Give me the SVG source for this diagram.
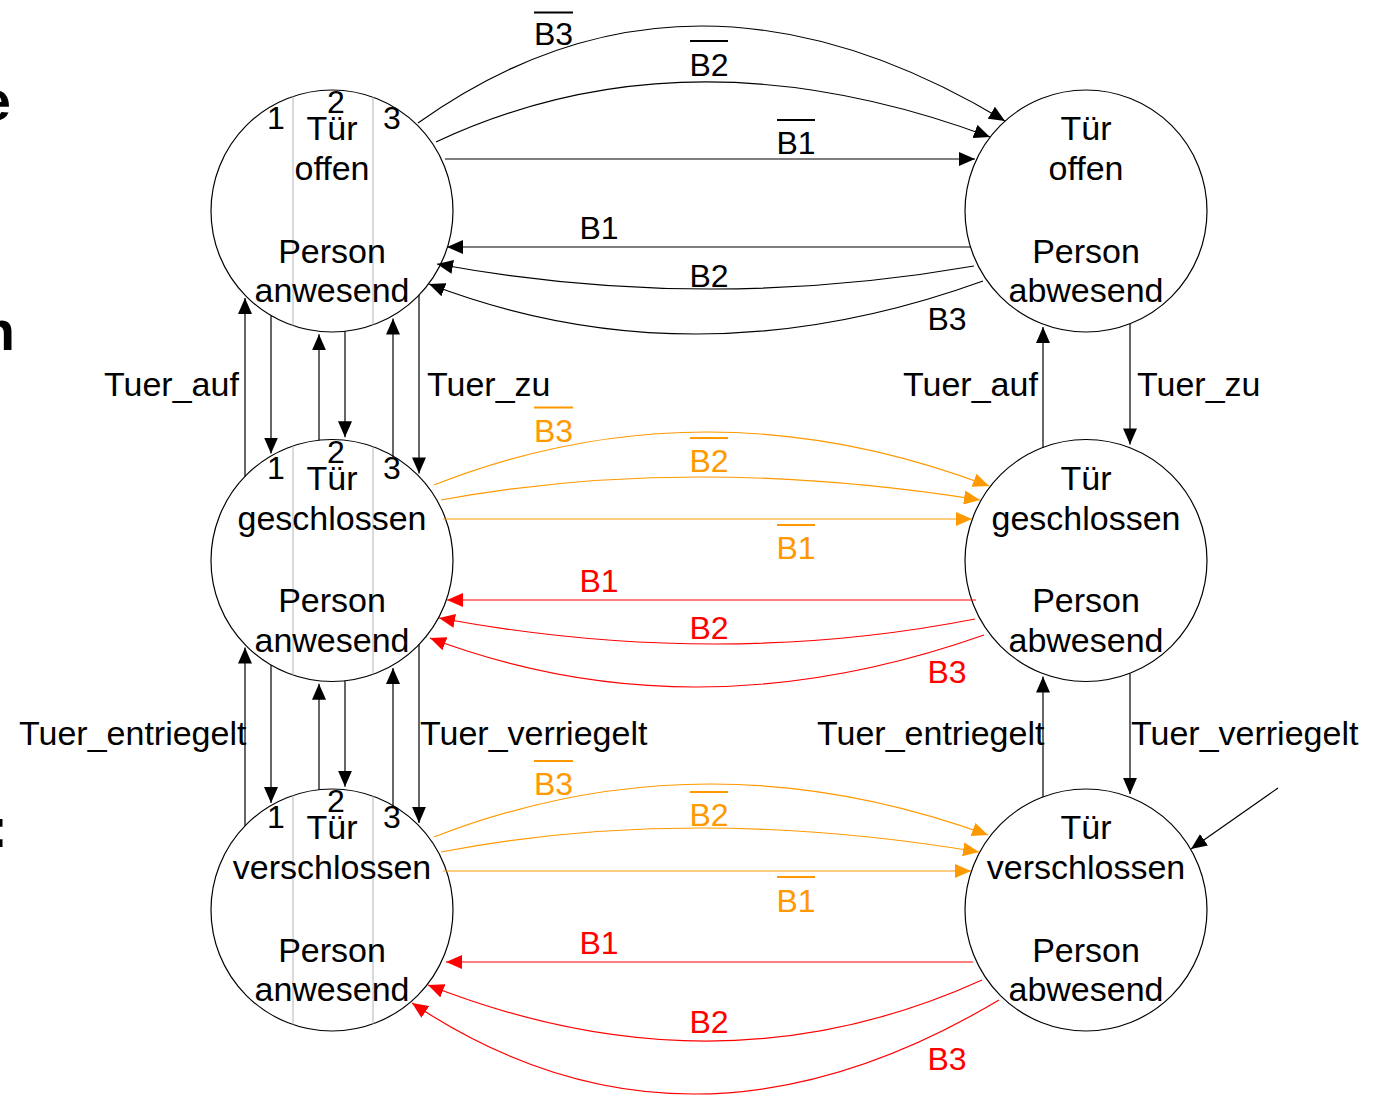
<svg xmlns="http://www.w3.org/2000/svg" width="1376" height="1095" viewBox="0 0 1376 1095">
  <style>
    text { font-family: "Liberation Sans", Arial, sans-serif; fill: #000; }
    .st { font-size: 34px; text-anchor: middle; }
    .num { font-size: 32px; text-anchor: middle; }
    .ev { font-size: 34px; }
    .lb { font-size: 32px; text-anchor: middle; }
    .lb.o { fill: #ff9900; }
    .lb.r { fill: #ff0000; }
    .cut { font-size: 56px; font-weight: bold; text-anchor: end; }
    .ring { fill: #fff; stroke: #000; stroke-width: 1.2; }
    .div { stroke: #b4b4b4; stroke-width: 1; }
    .ck { fill: none; stroke: #000; stroke-width: 1.2; marker-end: url(#ak); }
    .co { fill: none; stroke: #ff9900; stroke-width: 1.2; marker-end: url(#ao); }
    .cr { fill: none; stroke: #ff0000; stroke-width: 1.2; marker-end: url(#ar); }
    .bar { stroke-width: 2; }
    .bar.k { stroke: #000; }
    .bar.o { stroke: #ff9900; }
  </style>
  <defs>
    <marker id="ak" markerUnits="userSpaceOnUse" markerWidth="16" markerHeight="14" viewBox="0 0 16 14" refX="16" refY="7" orient="auto">
      <path d="M0,0 L16,7 L0,14 z" fill="#000"/>
    </marker>
    <marker id="ao" markerUnits="userSpaceOnUse" markerWidth="16" markerHeight="14" viewBox="0 0 16 14" refX="16" refY="7" orient="auto">
      <path d="M0,0 L16,7 L0,14 z" fill="#ff9900"/>
    </marker>
    <marker id="ar" markerUnits="userSpaceOnUse" markerWidth="16" markerHeight="14" viewBox="0 0 16 14" refX="16" refY="7" orient="auto">
      <path d="M0,0 L16,7 L0,14 z" fill="#ff0000"/>
    </marker>
  </defs>

  <rect width="1376" height="1095" fill="#fff"/>

  <!-- text running in from the left margin -->
  <g id="margin-text">
    <text class="cut" x="11" y="120">e</text>
    <text class="cut" x="15" y="350">n</text>
    <text class="cut" x="8" y="847">:</text>
  </g>

  <!-- left column: person present -->
  <g id="s-offen-anwesend">
    <circle class="ring" cx="332" cy="211" r="121"/>
    <line class="div" x1="293" y1="96.5" x2="293" y2="325.5"/>
    <line class="div" x1="373" y1="97.2" x2="373" y2="324.8"/>
    <text class="num" x="276" y="129">1</text>
    <text class="num" x="336" y="113">2</text>
    <text class="num" x="392" y="129">3</text>
    <text class="st" x="332" y="140">Tür</text>
    <text class="st" x="332" y="180">offen</text>
    <text class="st" x="332" y="263">Person</text>
    <text class="st" x="332" y="302">anwesend</text>
  </g>
  <g id="s-geschlossen-anwesend">
    <circle class="ring" cx="332" cy="560.5" r="121"/>
    <line class="div" x1="293" y1="446" x2="293" y2="675"/>
    <line class="div" x1="373" y1="446.7" x2="373" y2="674.3"/>
    <text class="num" x="276" y="478.5">1</text>
    <text class="num" x="336" y="462.5">2</text>
    <text class="num" x="392" y="478.5">3</text>
    <text class="st" x="332" y="489.5">Tür</text>
    <text class="st" x="332" y="529.5">geschlossen</text>
    <text class="st" x="332" y="612">Person</text>
    <text class="st" x="332" y="651.5">anwesend</text>
  </g>
  <g id="s-verschlossen-anwesend">
    <circle class="ring" cx="332" cy="910" r="121"/>
    <line class="div" x1="293" y1="795.5" x2="293" y2="1024.5"/>
    <line class="div" x1="373" y1="796.2" x2="373" y2="1023.8"/>
    <text class="num" x="276" y="828">1</text>
    <text class="num" x="336" y="812">2</text>
    <text class="num" x="392" y="828">3</text>
    <text class="st" x="332" y="839">Tür</text>
    <text class="st" x="332" y="879">verschlossen</text>
    <text class="st" x="332" y="961.5">Person</text>
    <text class="st" x="332" y="1001">anwesend</text>
  </g>

  <!-- right column: person absent -->
  <g id="s-offen-abwesend">
    <circle class="ring" cx="1086" cy="211" r="121"/>
    <text class="st" x="1086" y="140">Tür</text>
    <text class="st" x="1086" y="180">offen</text>
    <text class="st" x="1086" y="263">Person</text>
    <text class="st" x="1086" y="302">abwesend</text>
  </g>
  <g id="s-geschlossen-abwesend">
    <circle class="ring" cx="1086" cy="560.5" r="121"/>
    <text class="st" x="1086" y="489.5">Tür</text>
    <text class="st" x="1086" y="529.5">geschlossen</text>
    <text class="st" x="1086" y="612">Person</text>
    <text class="st" x="1086" y="651.5">abwesend</text>
  </g>
  <g id="s-verschlossen-abwesend">
    <circle class="ring" cx="1086" cy="910" r="121"/>
    <text class="st" x="1086" y="839">Tür</text>
    <text class="st" x="1086" y="879">verschlossen</text>
    <text class="st" x="1086" y="961.5">Person</text>
    <text class="st" x="1086" y="1001">abwesend</text>
  </g>

  <!-- transitions -->
  <g id="connectors">
    <!-- door events, left column -->
    <path class="ck" d="M245,476.4 L245,298"/>
    <path class="ck" d="M271,315.5 L271,453.5"/>
    <path class="ck" d="M319,440.2 L319,334.3"/>
    <path class="ck" d="M345,331.3 L345,437.2"/>
    <path class="ck" d="M393,457 L393,318.5"/>
    <path class="ck" d="M419,295.1 L419,473.4"/>
    <path class="ck" d="M245,825.9 L245,647.6"/>
    <path class="ck" d="M271,665 L271,803"/>
    <path class="ck" d="M319,789.7 L319,683.8"/>
    <path class="ck" d="M345,680.8 L345,786.7"/>
    <path class="ck" d="M393,806.5 L393,668"/>
    <path class="ck" d="M419,644.6 L419,822.9"/>
    <!-- door events, right column -->
    <path class="ck" d="M1043,447.4 L1043,327"/>
    <path class="ck" d="M1130,324 L1130,444.4"/>
    <path class="ck" d="M1043,796.9 L1043,676.5"/>
    <path class="ck" d="M1130,673.5 L1130,793.9"/>
    <!-- initial state -->
    <path class="ck" d="M1278,788 L1191,849"/>

    <!-- row 1: door open -->
    <path class="ck" d="M418,123 Q688.5,-70 1005,121"/>
    <path class="ck" d="M436,142 Q687,24.5 990,137"/>
    <path class="ck" d="M445,159 L975,159"/>
    <path class="ck" d="M971,247 L447,247"/>
    <path class="ck" d="M974,266 Q704.5,313 437,264"/>
    <path class="ck" d="M983,281 Q694,385.5 429,284"/>

    <!-- row 2: door closed -->
    <path class="co" d="M434,485 Q705,378.5 989,486"/>
    <path class="co" d="M441,500 Q690,454 980,500"/>
    <path class="co" d="M443,519 L972,519"/>
    <path class="cr" d="M976,600 L447,600"/>
    <path class="cr" d="M975,619 Q717,669.5 439,618"/>
    <path class="cr" d="M984,635 Q693,737.5 430,638"/>

    <!-- row 3: door locked -->
    <path class="co" d="M434,837 Q705,732 988,835"/>
    <path class="co" d="M441,852 Q690,804 979,852"/>
    <path class="co" d="M443,871 L971,871"/>
    <path class="cr" d="M973,962 L446,962"/>
    <path class="cr" d="M982,980 Q719,1099.5 428,985"/>
    <path class="cr" d="M999,1000 Q686.5,1186.5 412,1003"/>
  </g>

  <!-- transition labels -->
  <g id="labels">
    <text class="ev" x="104" y="396">Tuer_auf</text>
    <text class="ev" x="427" y="396">Tuer_zu</text>
    <text class="ev" x="903" y="396">Tuer_auf</text>
    <text class="ev" x="1137" y="396">Tuer_zu</text>
    <text class="ev" x="19" y="745">Tuer_entriegelt</text>
    <text class="ev" x="420" y="745">Tuer_verriegelt</text>
    <text class="ev" x="817" y="745">Tuer_entriegelt</text>
    <text class="ev" x="1131" y="745">Tuer_verriegelt</text>

    <text class="lb" x="553.5" y="45">B3</text>
    <line class="bar k" x1="534" y1="12.5" x2="573" y2="12.5"/>
    <text class="lb" x="709" y="76">B2</text>
    <line class="bar k" x1="690" y1="41" x2="728" y2="41"/>
    <text class="lb" x="796" y="154">B1</text>
    <line class="bar k" x1="777" y1="120" x2="815" y2="120"/>
    <text class="lb" x="599" y="239">B1</text>
    <text class="lb" x="709" y="287">B2</text>
    <text class="lb" x="947" y="330">B3</text>

    <text class="lb o" x="553.5" y="442">B3</text>
    <line class="bar o" x1="534" y1="407.5" x2="573" y2="407.5"/>
    <text class="lb o" x="709" y="472">B2</text>
    <line class="bar o" x1="690" y1="438" x2="728" y2="438"/>
    <text class="lb o" x="796" y="559">B1</text>
    <line class="bar o" x1="777" y1="525" x2="815" y2="525"/>
    <text class="lb r" x="599" y="592">B1</text>
    <text class="lb r" x="709" y="639">B2</text>
    <text class="lb r" x="947" y="683">B3</text>

    <text class="lb o" x="553.5" y="795">B3</text>
    <line class="bar o" x1="534" y1="761" x2="573" y2="761"/>
    <text class="lb o" x="709" y="826">B2</text>
    <line class="bar o" x1="690" y1="792" x2="728" y2="792"/>
    <text class="lb o" x="796" y="912">B1</text>
    <line class="bar o" x1="777" y1="877" x2="815" y2="877"/>
    <text class="lb r" x="599" y="954">B1</text>
    <text class="lb r" x="709" y="1033">B2</text>
    <text class="lb r" x="947" y="1070">B3</text>
  </g>
</svg>
